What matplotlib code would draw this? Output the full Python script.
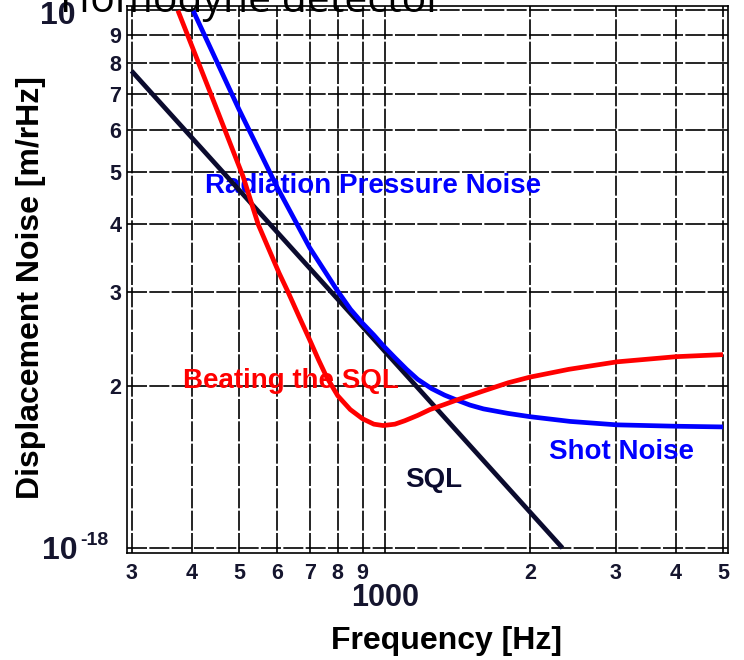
import numpy as np
import matplotlib
matplotlib.use("Agg")
import matplotlib.pyplot as plt
import matplotlib.transforms as mtransforms

plt.rcParams['font.family'] = ['Liberation Sans', 'DejaVu Sans']

# values, noise in units of 1e-18 m/rHz
scale = 1e-18

sql_freq = [300, 2330]
sql_noise = [7.72, 1.0]

shot_freq = [402, 500, 599, 700, 797, 850, 900, 950, 993, 1050, 1110, 1170,
             1250, 1330, 1409, 1500, 1600, 1800, 2000, 2418, 3017, 4000, 5000]
shot_noise = [10.0, 6.55, 4.70, 3.62, 3.02, 2.78, 2.62, 2.49, 2.38, 2.26,
              2.15, 2.06, 1.98, 1.925, 1.885, 1.845, 1.815, 1.78, 1.755,
              1.72, 1.695, 1.685, 1.68]

beat_freq = [374, 440, 510, 548, 605, 631, 665, 700, 730, 759, 800, 849, 900,
             950, 993, 1050, 1100, 1170, 1241, 1330, 1420, 1600, 1800, 1998,
             2400, 3017, 4004, 5000]
beat_noise = [10.0, 6.9, 4.91, 4.0, 3.25, 3.0, 2.7, 2.44, 2.24, 2.08, 1.92,
              1.81, 1.74, 1.70, 1.69, 1.70, 1.725, 1.765, 1.81, 1.85, 1.89,
              1.96, 2.03, 2.08, 2.15, 2.22, 2.27, 2.29]

xtick_pos = [300, 400, 500, 600, 700, 800, 900, 1000, 2000, 3000, 4000, 5000]
xtick_lab = ['3', '4', '5', '6', '7', '8', '9', '', '2', '3', '4', '5']
ytick_pos = [1, 2, 3, 4, 5, 6, 7, 8, 9, 10]
ytick_lab = ['', '2', '3', '4', '5', '6', '7', '8', '9', '']

fig = plt.figure(figsize=(7.44, 6.6), dpi=100)
ax = fig.add_axes([127 / 744, 1 - 553 / 660, 601 / 744, 547.5 / 660])

ax.set_xscale('log')
ax.set_yscale('log')
ax.set_xlim(293.6, 5120)
ax.set_ylim(0.979e-18, 1.0216e-17)

ax.plot(sql_freq, np.array(sql_noise) * scale, color='#0b0b2e', lw=3.4,
        solid_capstyle='butt', zorder=3)
ax.plot(shot_freq, np.array(shot_noise) * scale, color='#0000ff', lw=3.4,
        solid_capstyle='butt', zorder=4)
ax.plot(beat_freq, np.array(beat_noise) * scale, color='#ff0000', lw=3.4,
        solid_capstyle='butt', zorder=5)

ax.set_xticks(xtick_pos)
ax.set_xticklabels(xtick_lab)
ax.set_yticks(np.array(ytick_pos) * scale)
ax.set_yticklabels(ytick_lab)
ax.minorticks_off()
ax.tick_params(axis='both', length=0, labelcolor='#15152e')
ax.tick_params(axis='x', pad=7, labelsize=15.5)
ax.tick_params(axis='y', pad=4, labelsize=15.5)
for lab in ax.get_xticklabels() + ax.get_yticklabels():
    lab.set_fontweight('bold')

# decade labels drawn by hand, like the original
xtrans = mtransforms.blended_transform_factory(ax.transData, ax.transAxes)
ytrans = mtransforms.blended_transform_factory(ax.transAxes, ax.transData)
ax.text(1000, -0.082, '1000', transform=xtrans, ha='center', va='center',
        fontsize=22, fontweight='bold', color='#15152e')
ax.text(-0.1414, 0.987 * scale, '10', transform=ytrans, ha='left',
        va='center', fontsize=23, fontweight='bold', color='#15152e')
ax.text(-0.078, 1.035 * scale, '-18', transform=ytrans, ha='left',
        va='center', fontsize=14, fontweight='bold', color='#15152e')
ax.text(-0.1448, 9.77 * scale, '10', transform=ytrans, ha='left',
        va='center', fontsize=23, fontweight='bold', color='#15152e')

ax.grid(True, which='major', color='black', lw=1.2, linestyle=(0, (12, 1.4)))
for sp in ax.spines.values():
    sp.set_linewidth(1.2)

ax.set_xlabel('Frequency [Hz]', fontsize=23, fontweight='bold')
ax.xaxis.set_label_coords(0.532, -0.133)
ax.set_ylabel('Displacement Noise [m/rHz]', fontsize=23, fontweight='bold')
ax.yaxis.set_label_coords(-0.135, 0.485)

ax.text(425, 4.72 * scale, 'Radiation Pressure Noise', color='#0000ff',
        fontsize=20, fontweight='bold', ha='left', va='center', zorder=2)
ax.text(383, 2.045 * scale, 'Beating the SQL', color='#ff0000',
        fontsize=20, fontweight='bold', ha='left', va='center', zorder=2)
ax.text(2184, 1.51 * scale, 'Shot Noise', color='#0000ff',
        fontsize=20, fontweight='bold', ha='left', va='center', zorder=2)
ax.text(1102, 1.34 * scale, 'SQL', color='#0b0b2e',
        fontsize=20, fontweight='bold', ha='left', va='center', zorder=2)

fig.text(60 / 744, 1 - 12 / 660, 'Homodyne detector', fontsize=29.5,
         family=['Open Sans', 'DejaVu Sans'], va='baseline', ha='left')

fig.savefig('out.png', dpi=100)
